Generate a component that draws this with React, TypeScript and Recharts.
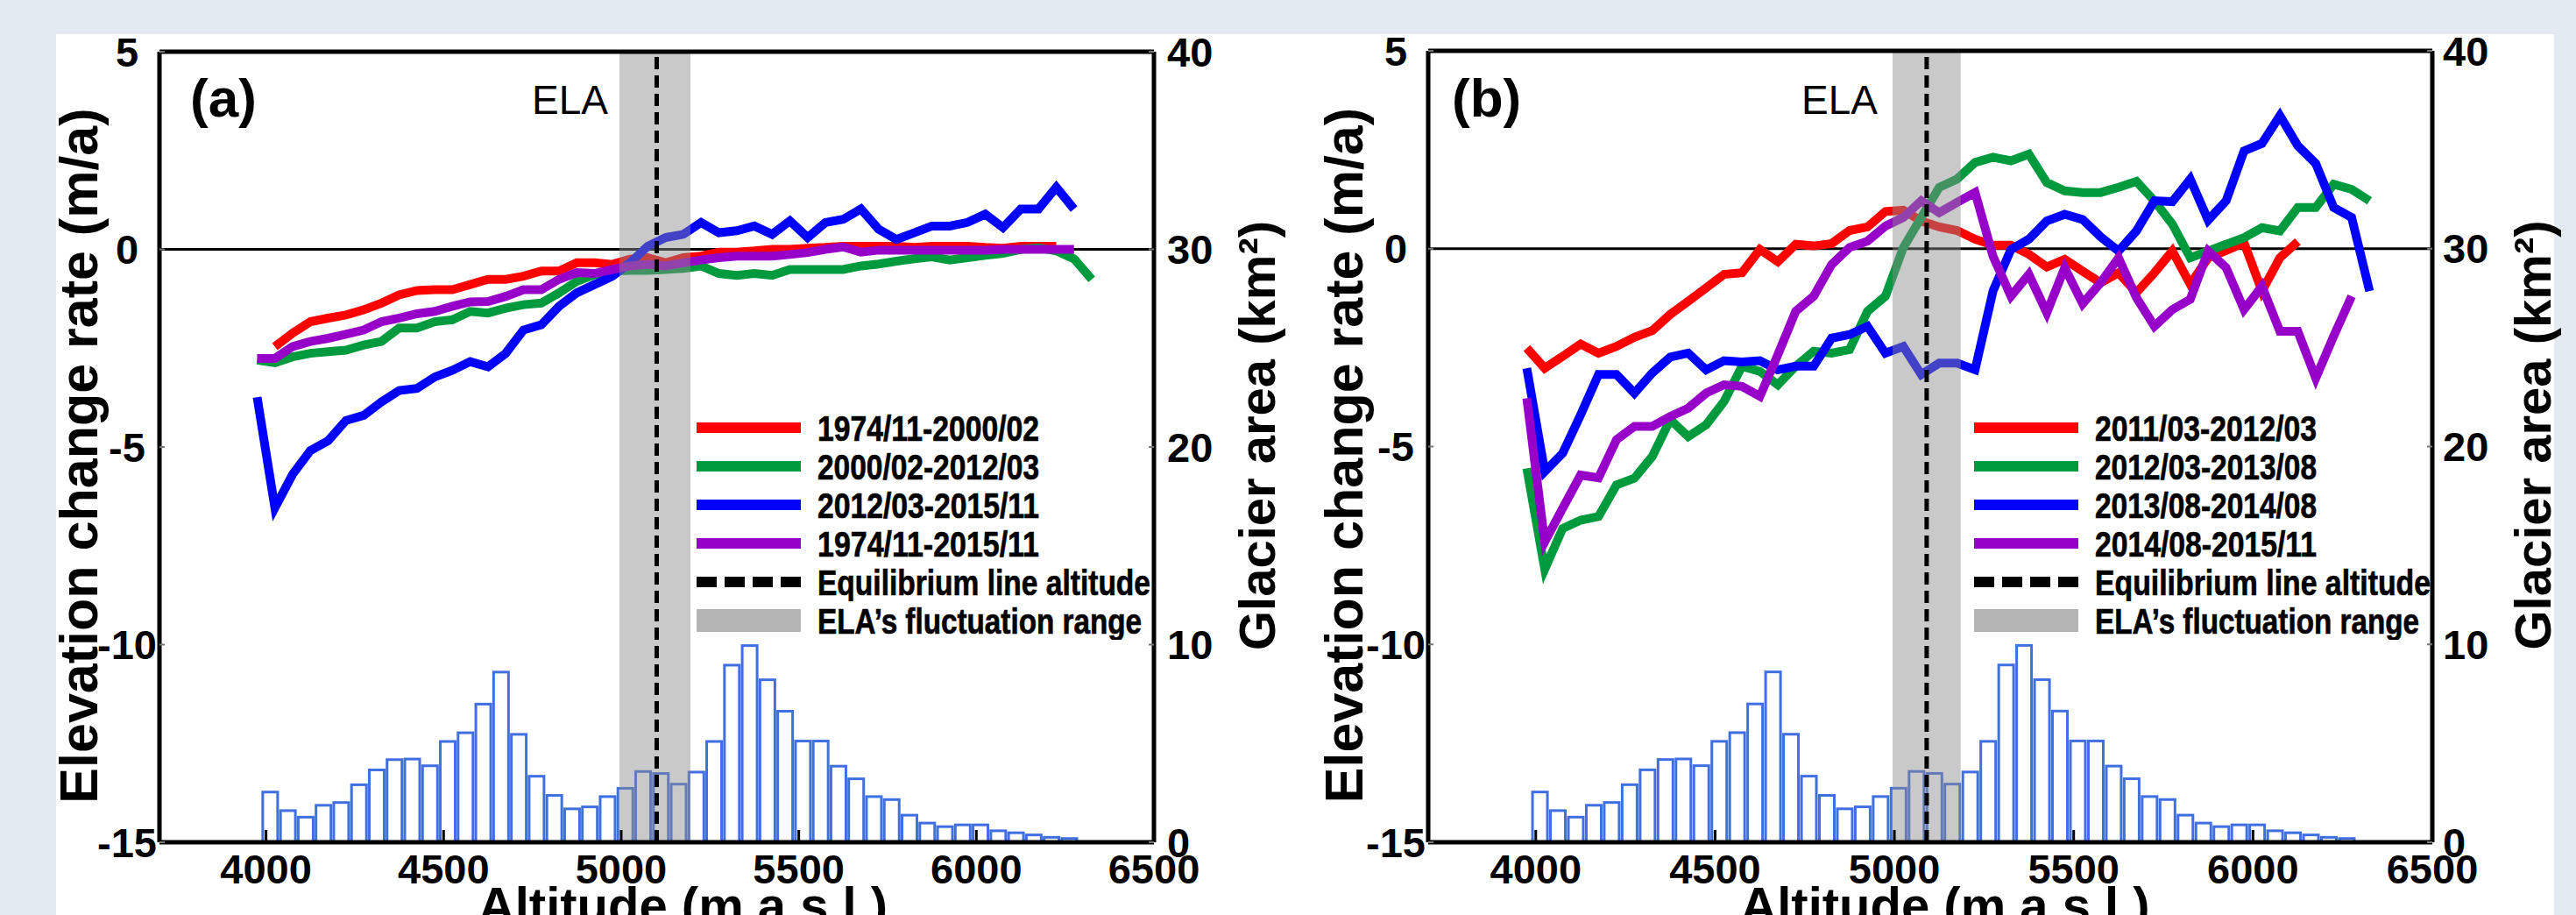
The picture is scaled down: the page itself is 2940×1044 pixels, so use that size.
import React from "react";
import { ComposedChart, Line, Bar, XAxis, YAxis, ReferenceLine, ReferenceArea, Legend } from "recharts";

// altitude of each profile point (m a.s.l.)
const ALTITUDES = [
  3975, 4025, 4075, 4125, 4175, 4225, 4275, 4325, 4375, 4425, 4475, 4525, 4575, 4625, 4675, 4725,
  4775, 4825, 4875, 4925, 4975, 5025, 5075, 5125, 5175, 5225, 5275, 5325, 5375, 5425, 5475, 5525,
  5575, 5625, 5675, 5725, 5775, 5825, 5875, 5925, 5975, 6025, 6075, 6125, 6175, 6225, 6275, 6325,
];

// hypsometry bins (centre altitude) and glacier area (km2)
const BIN_CENTERS = [
  4012, 4062, 4112, 4162, 4212, 4262, 4312, 4362, 4412, 4462, 4512, 4562, 4612, 4662, 4712, 4762,
  4812, 4862, 4912, 4962, 5012, 5062, 5112, 5162, 5212, 5262, 5312, 5362, 5412, 5462, 5512, 5562,
  5612, 5662, 5712, 5762, 5812, 5862, 5912, 5962, 6012, 6062, 6112, 6162, 6212, 6262,
];
const GLACIER_AREA = [
  2.54, 1.6, 1.27, 1.87, 2.01, 2.91, 3.66, 4.18, 4.21, 3.87, 5.1, 5.54, 6.99, 8.61, 5.46, 3.34,
  2.37, 1.69, 1.79, 2.31, 2.73, 3.58, 3.48, 2.94, 3.55, 5.1, 8.96, 9.95, 8.22, 6.63, 5.12, 5.12,
  3.85, 3.21, 2.31, 2.16, 1.37, 0.97, 0.79, 0.88, 0.88, 0.58, 0.48, 0.37, 0.25, 0.19,
];

// panel (a) elevation change rates (m/a)
const RED_A = [
  null, -2.46, -2.12, -1.83, -1.74, -1.66, -1.53, -1.36, -1.15, -1.04, -1.02, -1.02, -0.89, -0.76, -0.76, -0.68,
  -0.55, -0.55, -0.34, -0.34, -0.38, -0.25, -0.21, -0.34, -0.21, -0.17, -0.07, -0.07, -0.04, 0, 0, 0.03,
  0.05, 0.08, 0.08, 0.08, 0.08, 0.05, 0.08, 0.08, 0.08, 0.05, 0.03, 0.08, 0.08, 0.08, null, null,
];
const GREEN_A = [
  -2.8, -2.87, -2.72, -2.63, -2.59, -2.55, -2.42, -2.33, -1.99, -1.99, -1.83, -1.78, -1.57, -1.61, -1.49, -1.4,
  -1.36, -1.1, -0.81, -0.64, -0.55, -0.53, -0.53, -0.51, -0.48, -0.42, -0.61, -0.66, -0.61, -0.66, -0.51, -0.51,
  -0.51, -0.51, -0.42, -0.37, -0.3, -0.24, -0.19, -0.27, -0.21, -0.15, -0.1, 0, 0.04, -0.04, -0.24, -0.76,
];
const BLUE_A = [
  -3.74, -6.54, -5.69, -5.09, -4.84, -4.33, -4.2, -3.86, -3.57, -3.52, -3.23, -3.06, -2.84, -2.97, -2.63, -2.04,
  -1.91, -1.44, -1.1, -0.89, -0.68, -0.34, 0.08, 0.3, 0.38, 0.68, 0.42, 0.47, 0.59, 0.38, 0.72, 0.3,
  0.68, 0.76, 1.02, 0.51, 0.25, 0.42, 0.59, 0.59, 0.68, 0.89, 0.55, 1.02, 1.02, 1.57, 1.02, null,
];
const PURPLE_A = [
  -2.76, -2.76, -2.46, -2.33, -2.25, -2.15, -2.04, -1.83, -1.74, -1.63, -1.57, -1.44, -1.33, -1.32, -1.19, -1.02,
  -1.02, -0.76, -0.59, -0.61, -0.51, -0.42, -0.38, -0.42, -0.34, -0.27, -0.21, -0.17, -0.17, -0.17, -0.13, -0.08,
  0, 0.06, -0.07, -0.02, -0.02, -0.02, -0.02, -0.02, -0.02, -0.02, 0, 0, 0, 0, 0, null,
];

// panel (b) elevation change rates (m/a)
const RED_B = [
  -2.51, -3.02, -2.72, -2.41, -2.64, -2.47, -2.24, -2.07, -1.66, -1.33, -0.99, -0.65, -0.61, -0.02, -0.33, 0.11,
  0.07, 0.13, 0.46, 0.55, 0.94, 0.97, 0.7, 0.55, 0.46, 0.24, 0.09, 0.09, -0.14, -0.46, -0.27, -0.57,
  -0.86, -0.61, -1.11, -0.61, -0.06, -0.9, -0.23, -0.05, 0.15, -1.07, -0.23, 0.18, null, null, null, null,
];
const GREEN_B = [
  -5.55, -8.1, -7.07, -6.86, -6.77, -5.97, -5.8, -5.25, -4.32, -4.75, -4.45, -3.86, -2.97, -3.1, -3.44, -2.97,
  -2.59, -2.64, -2.55, -1.58, -1.2, 0.03, 0.79, 1.55, 1.76, 2.18, 2.31, 2.22, 2.39, 1.67, 1.46, 1.42,
  1.42, 1.55, 1.7, 1.21, 0.62, -0.23, -0.06, 0.11, 0.28, 0.53, 0.45, 1.04, 1.04, 1.63, 1.5, 1.21,
];
const BLUE_B = [
  -3.02, -5.63, -5.17, -4.2, -3.18, -3.18, -3.65, -3.14, -2.74, -2.64, -3.06, -2.83, -2.86, -2.83, -3.06, -2.97,
  -2.97, -2.26, -2.17, -1.96, -2.64, -2.47, -3.18, -2.89, -2.89, -3.06, -1.07, -0.02, 0.24, 0.7, 0.87, 0.74,
  0.3, -0.06, 0.45, 1.21, 1.19, 1.76, 0.72, 1.21, 2.47, 2.66, 3.36, 2.6, 2.15, 1.04, 0.79, -1.07,
];
const PURPLE_B = [
  -3.78, -7.41, -6.56, -5.72, -5.79, -4.83, -4.49, -4.49, -4.24, -4.03, -3.65, -3.44, -3.48, -3.73, -2.68, -1.58,
  -1.2, -0.4, 0.03, 0.19, 0.57, 0.79, 1.21, 0.91, 1.17, 1.42, -0.19, -1.2, -0.65, -1.62, -0.48, -1.39,
  -0.86, -0.23, -1.24, -1.96, -1.54, -1.28, -0.06, -0.48, -1.54, -0.95, -2.09, -2.09, -3.27, -2.21, -1.2, null,
];

const X_TICKS = [4000, 4500, 5000, 5500, 6000, 6500];
const LEFT_TICKS = [-15, -10, -5, 0, 5];
const RIGHT_TICKS = [0, 10, 20, 30, 40];

const SANS = "'Liberation Sans', Arial, Helvetica, sans-serif";

const RED = "#ff0000";
const GREEN = "#009a3e";
const BLUE = "#0000ff";
const PURPLE = "#9600c8";
const BAR_BLUE = "#3f6fe0";

type Series = { name: string; color: string; values: (number | null)[] };

const SERIES_A: Series[] = [
  { name: "1974/11-2000/02", color: RED, values: RED_A },
  { name: "2000/02-2012/03", color: GREEN, values: GREEN_A },
  { name: "2012/03-2015/11", color: BLUE, values: BLUE_A },
  { name: "1974/11-2015/11", color: PURPLE, values: PURPLE_A },
];
const SERIES_B: Series[] = [
  { name: "2011/03-2012/03", color: RED, values: RED_B },
  { name: "2012/03-2013/08", color: GREEN, values: GREEN_B },
  { name: "2013/08-2014/08", color: BLUE, values: BLUE_B },
  { name: "2014/08-2015/11", color: PURPLE, values: PURPLE_B },
];

const histData = BIN_CENTERS.map((alt, i) => ({ alt, area: GLACIER_AREA[i] }));

function toPoints(values: (number | null)[]) {
  return ALTITUDES.map((alt, i) => ({ alt, v: values[i] })).filter((p) => p.v !== null);
}

// outlined histogram bar, fixed width, centred on the bin
function HistBar(props: any) {
  const { x, y, width, height } = props;
  if (height == null || height <= 0) return null;
  const cx = x + width / 2;
  return <rect x={cx - 8.5} y={y} width={17} height={height} fill="#fff" stroke={BAR_BLUE} strokeWidth={3} />;
}

// legend text is a narrow bold face in the original, squeeze Liberation Sans to that width
function LegendRow({ swatch, label, textW }: { swatch: React.ReactNode; label: string; textW: number }) {
  return (
    <svg width={540} height={44} style={{ display: "block" }}>
      {swatch}
      <text
        x={138}
        y={37}
        fontFamily={SANS}
        fontWeight={700}
        fontSize={41}
        fill="#000"
        stroke="#000"
        strokeWidth={0.7}
        textLength={textW}
        lengthAdjust="spacingAndGlyphs"
      >
        {label}
      </text>
    </svg>
  );
}

function LegendBox({ payload, order, elaW }: any) {
  const items = (payload || [])
    .filter((p: any) => p.type !== "none")
    .sort((a: any, b: any) => order.indexOf(a.value) - order.indexOf(b.value));
  return (
    <div>
      {items.map((it: any) => (
        <LegendRow
          key={it.value}
          label={it.value}
          textW={253}
          swatch={<line x1={0} x2={119} y1={22} y2={22} stroke={it.color} strokeWidth={12} />}
        />
      ))}
      <LegendRow
        label="Equilibrium line altitude"
        textW={elaW}
        swatch={<line x1={0} x2={119} y1={22} y2={22} stroke="#000" strokeWidth={12} strokeDasharray="23 9" />}
      />
      <LegendRow
        label="ELA’s fluctuation range"
        textW={370}
        swatch={<rect x={0} y={9} width={119} height={26} fill="#b4b4b4" />}
      />
    </div>
  );
}

type PanelProps = {
  series: Series[];
  left: number;
  width: number;
  top: number;
  leftAxisW: number;
  rightAxisW: number;
  rightTickMargin: number;
  elaLow: number;
  elaHigh: number;
  ela: number;
  legendLeft: number;
  legendElaW: number;
  titleDx: number;
};

function Panel(p: PanelProps) {
  const tickStyle = { fill: "#000", fontSize: 47, fontWeight: 700, fontFamily: SANS };
  const titleStyle = { fill: "#000", fontWeight: 700, fontFamily: SANS };
  const order = p.series.map((s) => s.name);
  return (
    <div style={{ position: "absolute", left: p.left, top: 0 }}>
      <ComposedChart width={p.width} height={1044} data={histData} margin={{ top: p.top, right: 0, bottom: 32, left: 0 }}>
        <XAxis
          dataKey="alt"
          type="number"
          domain={[3700, 6500]}
          ticks={X_TICKS}
          interval={0}
          allowDataOverflow
          height={51}
          tickSize={-14}
          tickMargin={28}
          axisLine={{ stroke: "#000", strokeWidth: 5 }}
          tickLine={{ stroke: "#000", strokeWidth: 3 }}
          tick={tickStyle}
          label={{ value: "Altitude (m a.s.l.)", position: "bottom", offset: 0, dx: p.titleDx, ...titleStyle, fontSize: 58 }}
        />
        <XAxis
          xAxisId="top"
          orientation="top"
          type="number"
          domain={[3700, 6500]}
          ticks={X_TICKS}
          interval={0}
          allowDataOverflow
          height={1}
          tickSize={-10}
          tickFormatter={() => ""}
          axisLine={{ stroke: "#000", strokeWidth: 5 }}
          tickLine={{ stroke: "#000", strokeWidth: 2 }}
        />
        <YAxis
          yAxisId="left"
          type="number"
          domain={[-15, 5]}
          ticks={LEFT_TICKS}
          interval={0}
          allowDataOverflow
          width={p.leftAxisW}
          tickSize={-6}
          tickMargin={43}
          axisLine={{ stroke: "#000", strokeWidth: 5 }}
          tickLine={{ stroke: "#777", strokeWidth: 2 }}
          tick={{ ...tickStyle, textAnchor: "middle" }}
          label={{ value: "Elevation change rate (m/a)", angle: -90, position: "center", dy: 10, ...titleStyle, fontSize: 61 }}
        />
        <YAxis
          yAxisId="right"
          orientation="right"
          type="number"
          domain={[0, 40]}
          ticks={RIGHT_TICKS}
          interval={0}
          allowDataOverflow
          width={p.rightAxisW}
          tickSize={-6}
          tickMargin={p.rightTickMargin}
          axisLine={{ stroke: "#000", strokeWidth: 5 }}
          tickLine={{ stroke: "#777", strokeWidth: 2 }}
          tick={tickStyle}
          label={{ value: "Glacier area (km²)", angle: -90, position: "center", dy: -13, ...titleStyle, fontSize: 58 }}
        />
        <Bar
          dataKey="area"
          yAxisId="right"
          shape={HistBar}
          legendType="none"
          isAnimationActive={false}
        />
        <ReferenceLine y={0} yAxisId="left" stroke="#000" strokeWidth={3} zIndex={350} />
        {p.series.map((s) => (
          <Line
            key={s.name}
            data={toPoints(s.values)}
            dataKey="v"
            name={s.name}
            yAxisId="left"
            type="linear"
            stroke={s.color}
            strokeWidth={10}
            dot={false}
            activeDot={false}
            isAnimationActive={false}
          />
        ))}
        <ReferenceArea
          x1={p.elaLow}
          x2={p.elaHigh}
          yAxisId="left"
          fill="#8c8c8c"
          fillOpacity={0.47}
          stroke="none"
          zIndex={450}
        />
        <ReferenceLine
          x={p.ela}
          yAxisId="left"
          stroke="#000"
          strokeWidth={5}
          strokeDasharray="14 7"
          zIndex={460}
        />
        <Legend
          layout="vertical"
          align="center"
          verticalAlign="middle"
          wrapperStyle={{ left: p.legendLeft, top: 466, width: 540 }}
          content={(props: any) => <LegendBox payload={props.payload} order={order} elaW={p.legendElaW} />}
        />
      </ComposedChart>
    </div>
  );
}

export default function App() {
  return (
    <div
      style={{
        position: "absolute",
        left: 0,
        top: 0,
        width: 2940,
        height: 1044,
        overflow: "hidden",
        background: "#e3eaf2",
      }}
    >
      <div style={{ position: "absolute", left: 64, top: 39, width: 2851, height: 1005, background: "#fff" }} />
      <Panel
        series={SERIES_A}
        left={-4}
        width={1555}
        top={58}
        leftAxisW={186}
        rightAxisW={234}
        rightTickMargin={21}
        elaLow={4995}
        elaHigh={5195}
        ela={5100}
        legendLeft={799}
        legendElaW={380}
        titleDx={30}
      />
      <Panel
        series={SERIES_B}
        left={1436}
        width={1568}
        top={57}
        leftAxisW={194}
        rightAxisW={228}
        rightTickMargin={18}
        elaLow={4995}
        elaHigh={5185}
        ela={5090}
        legendLeft={817}
        legendElaW={383}
        titleDx={17}
      />
      <svg width={2940} height={1044} style={{ position: "absolute", left: 0, top: 0, pointerEvents: "none" }}>
        <text x={217} y={133} fontFamily={SANS} fontWeight={700} fontSize={62} fill="#000">(a)</text>
        <text x={607} y={130} fontFamily={SANS} fontSize={46} fill="#000">ELA</text>
        <text x={1657} y={133} fontFamily={SANS} fontWeight={700} fontSize={62} fill="#000">(b)</text>
        <text x={2056} y={130} fontFamily={SANS} fontSize={46} fill="#000">ELA</text>
      </svg>
    </div>
  );
}
